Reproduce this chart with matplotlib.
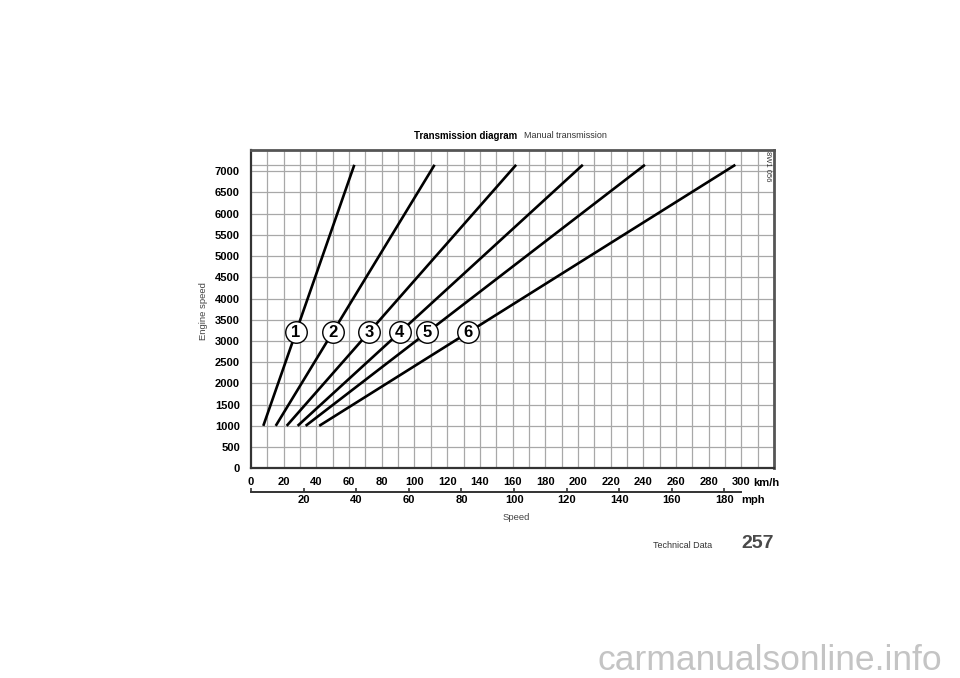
import numpy as np
import matplotlib
matplotlib.use('Agg')
import matplotlib.pyplot as plt

# gear lines: speed (km/h) at 1000 rpm and at the upper end of the line
gears = ['1', '2', '3', '4', '5', '6']
kmh_low = [7.5, 15.1, 21.8, 28.5, 33.4, 41.7]
kmh_high = [63.2, 112.3, 162.2, 203.0, 241.0, 296.3]
rpm_low = 1000
rpm_high = 7150
label_rpm = 3200

rpm_ticks = list(range(0, 7001, 500))
kmh_ticks = list(range(0, 301, 20))
mph_ticks = list(range(0, 181, 20))

sans = ['Liberation Sans', 'DejaVu Sans']

fig = plt.figure(figsize=(9.6, 6.78), dpi=100)
ax = fig.add_axes([0.2615, 0.3093, 0.5448, 0.4695])
ax.set_xlim(0, 320)
ax.set_ylim(0, 7500)

# grid
for x in range(10, 320, 10):
    ax.axvline(x, color='#a8a8a8', lw=0.9, zorder=1)
for y in rpm_ticks[1:] + [rpm_high]:
    ax.axhline(y, color='#a8a8a8', lw=0.9, zorder=1)

for g, a, b in zip(gears, kmh_low, kmh_high):
    ax.plot([a, b], [rpm_low, rpm_high], color='black', lw=1.9, zorder=3,
            solid_capstyle='butt')
    xl = np.interp(label_rpm, [rpm_low, rpm_high], [a, b])
    ax.scatter([xl], [label_rpm], s=240, facecolor='white', edgecolor='black',
               lw=1.0, zorder=4)
    ax.text(xl, label_rpm, g, ha='center', va='center', fontsize=12,
            fontweight='bold', family=sans, zorder=5)

ax.set_yticks(rpm_ticks)
ax.set_yticklabels([str(v) for v in rpm_ticks], fontsize=8, fontweight='bold',
                   family=sans)
ax.set_xticks(kmh_ticks)
ax.set_xticklabels([str(v) for v in kmh_ticks], fontsize=8, fontweight='bold',
                   family=sans)
ax.tick_params(axis='y', length=0, pad=8)
ax.tick_params(axis='x', length=0, pad=6)

for s in ['top', 'right']:
    ax.spines[s].set_color('#555555')
    ax.spines[s].set_linewidth(2.0)
for s in ['left', 'bottom']:
    ax.spines[s].set_color('#333333')
    ax.spines[s].set_linewidth(1.6)

# mph scale
k2m = 0.621371
sec = ax.secondary_xaxis(-0.075, functions=(lambda v: v * k2m, lambda v: v / k2m))
sec.set_xticks(mph_ticks)
sec.set_xticklabels([''] + [str(v) for v in mph_ticks[1:]], fontsize=8,
                    fontweight='bold', family=sans)
sec.tick_params(axis='x', direction='in', length=3, width=1.2, pad=2, color='#333333')
sec.spines['bottom'].set_bounds(0, 300 * k2m)
sec.spines['bottom'].set_color('#333333')
sec.spines['bottom'].set_linewidth(1.4)

ax.text(0.985, -0.045, 'km/h', transform=ax.transAxes, fontsize=8,
        fontweight='bold', family=sans, ha='center', va='center')
ax.text(0.937, -0.1, 'mph', transform=ax.transAxes, fontsize=8,
        fontweight='bold', family=sans, ha='left', va='center')

fig.text(203 / 960, 1 - 311 / 678, 'Engine speed', rotation=90, fontsize=6.8,
         family=sans, color='#444444', ha='center', va='center')
fig.text(516 / 960, 1 - 517 / 678, 'Speed', fontsize=6.8, family=sans,
         color='#444444', ha='center', va='center')
fig.text(517 / 960, 1 - 136 / 678, 'Transmission diagram', fontsize=7,
         fontweight='bold', family=sans, ha='right', va='center')
fig.text(524 / 960, 1 - 136 / 678, 'Manual transmission', fontsize=6.5,
         family=sans, color='#333333', ha='left', va='center')
fig.text(768 / 960, 1 - 166 / 678, '8W1 056', rotation=-90, fontsize=5.5,
         family=sans, color='#333333', ha='center', va='center')

fig.text(712 / 960, 1 - 546 / 678, 'Technical Data', fontsize=6.5,
         family=sans, color='#333333', ha='right', va='center')
fig.text(758 / 960, 1 - 543 / 678, '257', fontsize=14, fontweight='bold',
         family=sans, color='#4a4a4a', ha='center', va='center')
fig.text(770 / 960, 1 - 660 / 678, 'carmanualsonline.info', fontsize=25.5,
         family=sans, color='#c4c4c4', ha='center', va='center')

fig.savefig('out.png', dpi=100)
